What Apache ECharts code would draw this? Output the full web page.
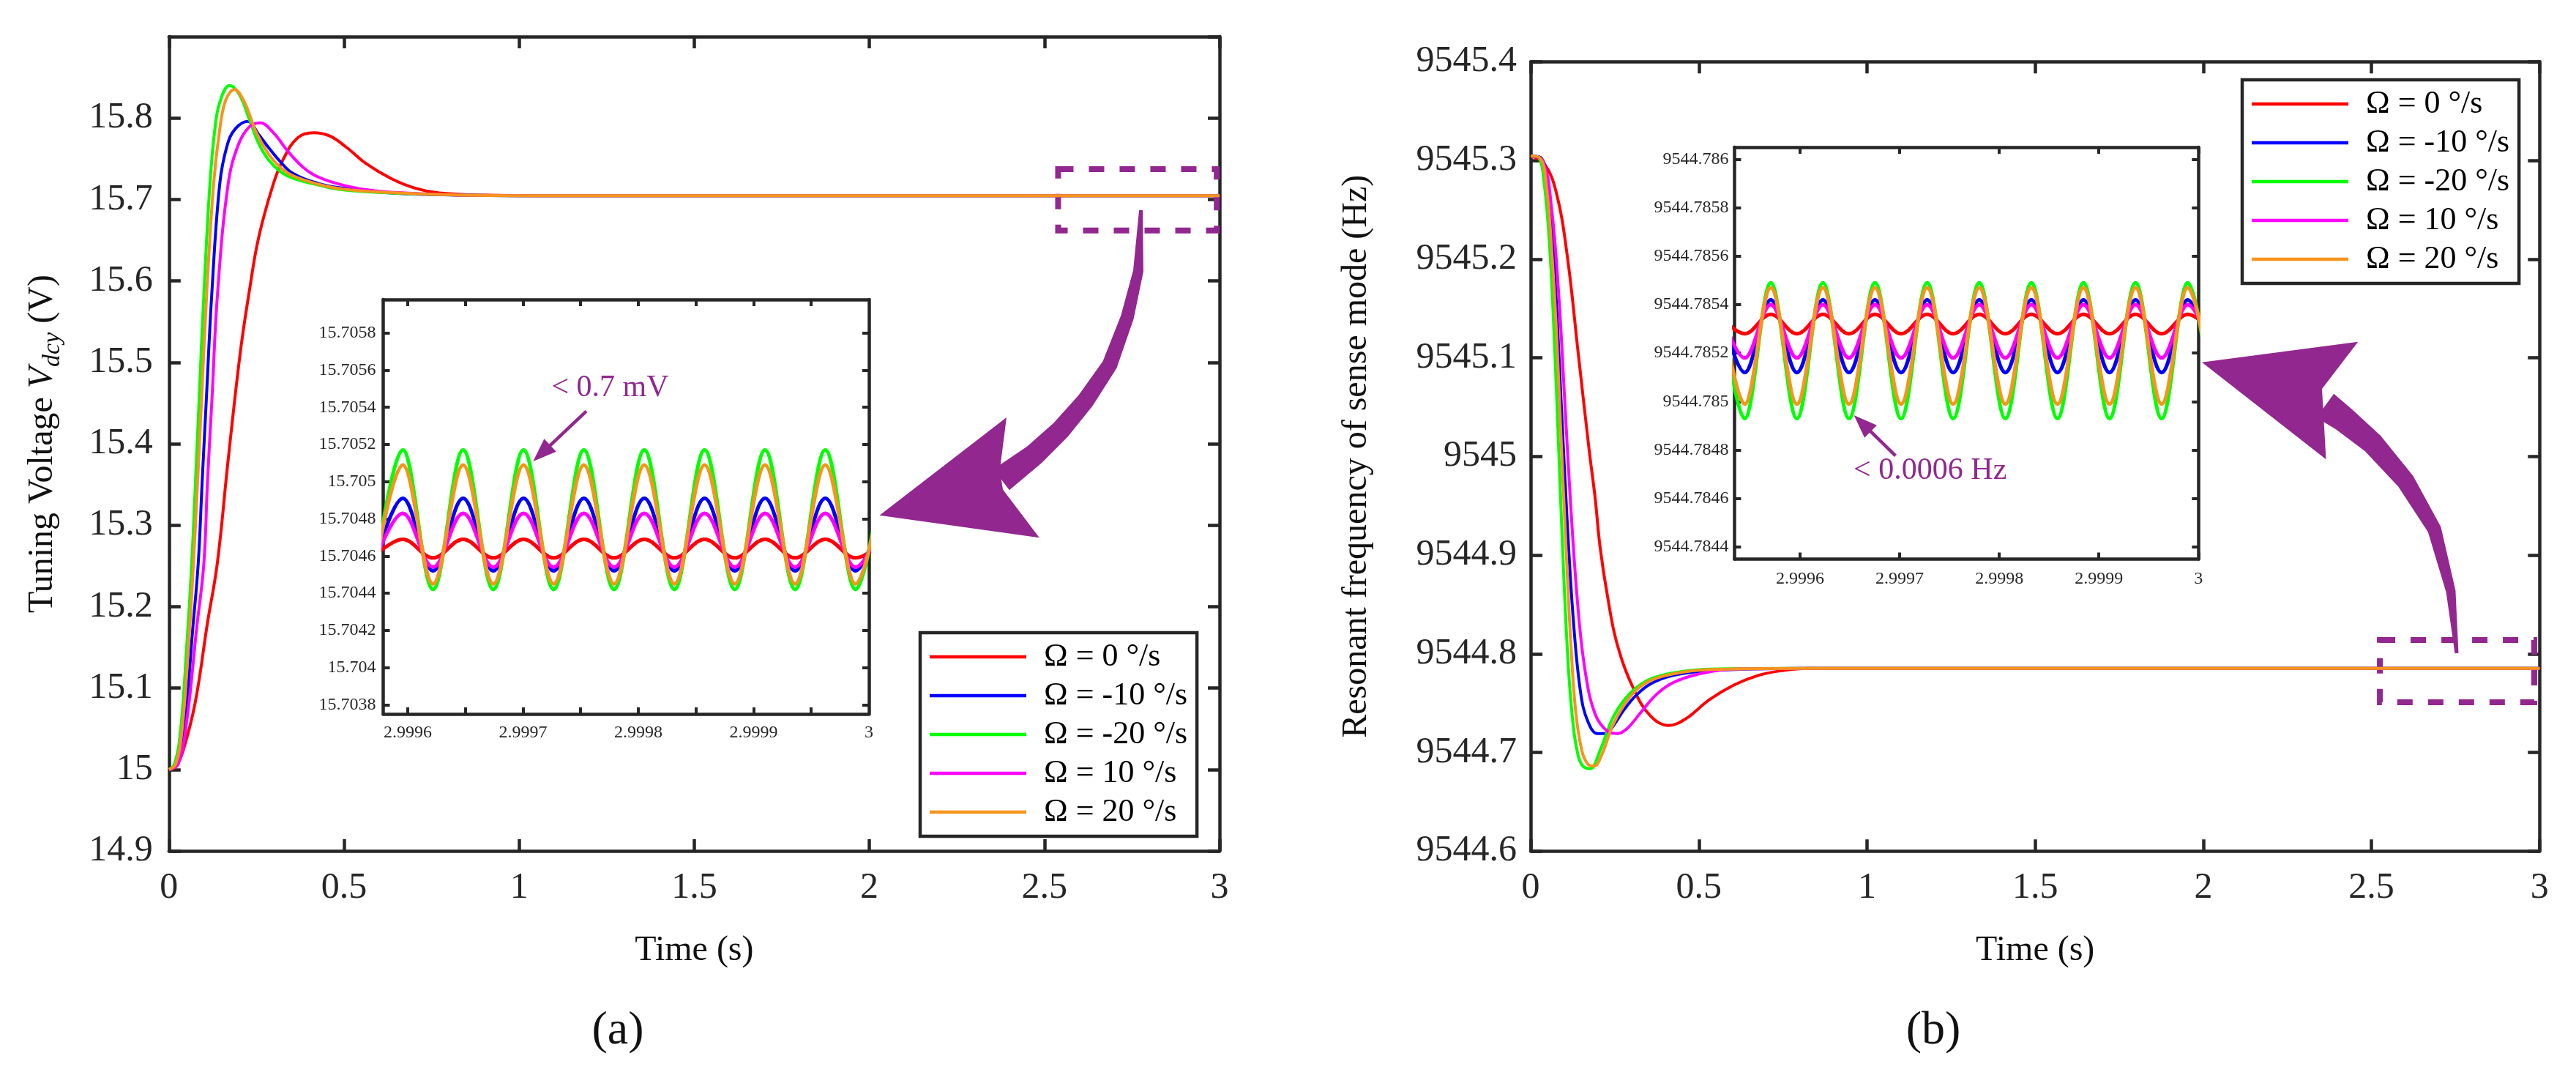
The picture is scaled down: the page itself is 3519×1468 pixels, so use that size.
<!DOCTYPE html>
<html>
<head>
<meta charset="utf-8">
<script src="https://cdn.jsdelivr.net/npm/echarts@6/dist/echarts.min.js"></script>
<style>
  html, body { margin: 0; padding: 0; background: #fff; }
  #main { width: 3519px; height: 1468px; }
</style>
</head>
<body>
<div id="main"></div>
<script>
// series names and colours (same order as the legend)
const names = ['Ω = 0 °/s', 'Ω = -10 °/s', 'Ω = -20 °/s', 'Ω = 10 °/s', 'Ω = 20 °/s'];
const colors = ['#FF0000', '#0000FF', '#00FF00', '#FF00FF', '#F7941D'];

// ---- (a) tuning voltage, [time s, V] ----
const voltRed = [[0,15.0],[0.0195,15.0033],[0.0404,15.023],[0.0753,15.083],[0.110,15.180],[0.138,15.253],[0.169,15.380],[0.204,15.513],[0.229,15.586],[0.256,15.653],[0.298,15.719],[0.326,15.749],[0.368,15.776],[0.413,15.782],[0.459,15.778],[0.507,15.764],[0.563,15.744],[0.633,15.726],[0.702,15.714],[0.772,15.708],[0.912,15.7052],[1.05,15.7047],[3.0,15.7047]];
const voltBlue = [[0,15.0],[0.023,15.0067],[0.044,15.053],[0.068,15.173],[0.0836,15.253],[0.0948,15.353],[0.1066,15.453],[0.1226,15.586],[0.145,15.719],[0.166,15.766],[0.190,15.787],[0.225,15.796],[0.256,15.780],[0.284,15.764],[0.319,15.746],[0.354,15.732],[0.424,15.720],[0.493,15.714],[0.633,15.708],[0.842,15.7052],[1.0,15.7047],[3.0,15.7047]];
const voltGreen = [[0,15.0],[0.016,15.0067],[0.033,15.047],[0.051,15.153],[0.065,15.253],[0.075,15.346],[0.086,15.453],[0.100,15.586],[0.117,15.719],[0.131,15.786],[0.145,15.819],[0.173,15.840],[0.201,15.829],[0.229,15.799],[0.256,15.769],[0.284,15.749],[0.319,15.734],[0.354,15.726],[0.424,15.718],[0.493,15.712],[0.633,15.708],[0.842,15.7052],[1.0,15.7047],[3.0,15.7047]];
const voltMagenta = [[0,15.0],[0.0265,15.0067],[0.051,15.060],[0.079,15.173],[0.0997,15.253],[0.110,15.353],[0.1226,15.453],[0.139,15.586],[0.169,15.719],[0.197,15.766],[0.229,15.789],[0.260,15.794],[0.298,15.782],[0.340,15.759],[0.382,15.740],[0.424,15.728],[0.493,15.718],[0.563,15.712],[0.633,15.709],[0.842,15.7052],[1.0,15.7047],[3.0,15.7047]];
const voltOrange = [[0,15.0],[0.0195,15.0067],[0.037,15.047],[0.056,15.153],[0.070,15.253],[0.081,15.346],[0.093,15.453],[0.108,15.586],[0.1275,15.719],[0.145,15.786],[0.162,15.822],[0.187,15.835],[0.215,15.820],[0.2495,15.782],[0.284,15.756],[0.319,15.739],[0.354,15.729],[0.424,15.719],[0.493,15.713],[0.633,15.7084],[0.842,15.7052],[1.0,15.7047],[3.0,15.7047]];

// (a) inset: times of troughs / peaks, then values at those times
const zoomTimeA = [2.9995696, 2.9995958, 2.999622, 2.9996481, 2.9996743, 2.9997005, 2.9997266, 2.9997528, 2.999779, 2.9998052, 2.9998313, 2.9998575, 2.9998837, 2.9999099, 2.999936, 2.9999622, 2.9999884, 3.0000146];
const zoomVoltRed = [15.70459,15.70469,15.70459,15.70469,15.70459,15.70469,15.70459,15.70469,15.70459,15.70469,15.70459,15.70469,15.70459,15.70469,15.70459,15.70469,15.70459,15.70469];
const zoomVoltBlue = [15.70452,15.70491,15.70452,15.70491,15.70452,15.70491,15.70452,15.70491,15.70452,15.70491,15.70452,15.70491,15.70452,15.70491,15.70452,15.70491,15.70452,15.70491];
const zoomVoltGreen = [15.70442,15.70517,15.70442,15.70517,15.70442,15.70517,15.70442,15.70517,15.70442,15.70517,15.70442,15.70517,15.70442,15.70517,15.70442,15.70517,15.70442,15.70517];
const zoomVoltMagenta = [15.70454,15.70483,15.70454,15.70483,15.70454,15.70483,15.70454,15.70483,15.70454,15.70483,15.70454,15.70483,15.70454,15.70483,15.70454,15.70483,15.70454,15.70483];
const zoomVoltOrange = [15.70445,15.70509,15.70445,15.70509,15.70445,15.70509,15.70445,15.70509,15.70445,15.70509,15.70445,15.70509,15.70445,15.70509,15.70445,15.70509,15.70445,15.70509];
const zoomBandA = [15.70517, 15.70442];

// ---- (b) resonant frequency, [time s, Hz] ----
const freqRed = [[0,9545.3044],[0.0398,9545.297],[0.0759,9545.2675],[0.1085,9545.2036],[0.141,9545.1052],[0.1736,9545.0068],[0.1916,9544.9576],[0.2061,9544.9084],[0.2278,9544.8593],[0.2567,9544.8101],[0.3073,9544.7634],[0.358,9544.7363],[0.4086,9544.7274],[0.4593,9544.7338],[0.5315,9544.7535],[0.6039,9544.7683],[0.6762,9544.7781],[0.7485,9544.783],[0.8208,9544.7852],[3,9544.7852]];
const freqBlue = [[0,9545.3044],[0.0325,9545.302],[0.0542,9545.2626],[0.0723,9545.179],[0.0904,9545.056],[0.1085,9544.9331],[0.1266,9544.8347],[0.1482,9544.7609],[0.1699,9544.7314],[0.1989,9544.7191],[0.2242,9544.7191],[0.2423,9544.7255],[0.2784,9544.7437],[0.3146,9544.7584],[0.358,9544.7698],[0.4231,9544.7781],[0.5315,9544.783],[0.8,9544.7852],[3,9544.7852]];
const freqGreen = [[0,9545.3044],[0.0253,9545.302],[0.0398,9545.2774],[0.0542,9545.2233],[0.0687,9545.1298],[0.0832,9545.0068],[0.0976,9544.8839],[0.1121,9544.7855],[0.1266,9544.7265],[0.141,9544.6969],[0.1555,9544.6861],[0.1772,9544.6837],[0.2061,9544.7019],[0.2423,9544.7338],[0.2784,9544.7535],[0.3146,9544.7658],[0.358,9544.7747],[0.4231,9544.7806],[0.5315,9544.7845],[0.8,9544.7852],[3,9544.7852]];
const freqMagenta = [[0,9545.3044],[0.0362,9545.2995],[0.0615,9545.2528],[0.0832,9545.1642],[0.1012,9545.056],[0.1193,9544.9478],[0.141,9544.8445],[0.1627,9544.7806],[0.1916,9544.7388],[0.2278,9544.7215],[0.2567,9544.7191],[0.2857,9544.724],[0.329,9544.7412],[0.3724,9544.7584],[0.4231,9544.7707],[0.4954,9544.7791],[0.6039,9544.7845],[0.85,9544.7852],[3,9544.7852]];
const freqOrange = [[0,9545.3044],[0.0289,9545.302],[0.047,9545.2725],[0.0615,9545.2134],[0.0759,9545.1298],[0.0904,9545.0167],[0.1049,9544.9084],[0.1193,9544.8101],[0.1338,9544.7412],[0.1519,9544.7019],[0.1699,9544.6881],[0.188,9544.6861],[0.2133,9544.6994],[0.2423,9544.7265],[0.2784,9544.7486],[0.3146,9544.7634],[0.358,9544.7732],[0.4231,9544.7796],[0.5315,9544.784],[0.8,9544.7852],[3,9544.7852]];

// (b) inset: times of peaks / troughs, then values
const zoomTimeB = [2.9995182, 2.9995444, 2.9995706, 2.9995968, 2.9996229, 2.9996491, 2.9996752, 2.9997014, 2.9997276, 2.9997537, 2.9997799, 2.9998061, 2.9998322, 2.9998584, 2.9998845, 2.9999107, 2.9999368, 2.999963, 2.9999892, 3.0000154];
const zoomFreqRed = [9544.78536,9544.78528,9544.78536,9544.78528,9544.78536,9544.78528,9544.78536,9544.78528,9544.78536,9544.78528,9544.78536,9544.78528,9544.78536,9544.78528,9544.78536,9544.78528,9544.78536,9544.78528,9544.78536,9544.78528];
const zoomFreqBlue = [9544.78542,9544.78512,9544.78542,9544.78512,9544.78542,9544.78512,9544.78542,9544.78512,9544.78542,9544.78512,9544.78542,9544.78512,9544.78542,9544.78512,9544.78542,9544.78512,9544.78542,9544.78512,9544.78542,9544.78512];
const zoomFreqGreen = [9544.78549,9544.78493,9544.78549,9544.78493,9544.78549,9544.78493,9544.78549,9544.78493,9544.78549,9544.78493,9544.78549,9544.78493,9544.78549,9544.78493,9544.78549,9544.78493,9544.78549,9544.78493,9544.78549,9544.78493];
const zoomFreqMagenta = [9544.7854,9544.78518,9544.7854,9544.78518,9544.7854,9544.78518,9544.7854,9544.78518,9544.7854,9544.78518,9544.7854,9544.78518,9544.7854,9544.78518,9544.7854,9544.78518,9544.7854,9544.78518,9544.7854,9544.78518];
const zoomFreqOrange = [9544.78547,9544.78499,9544.78547,9544.78499,9544.78547,9544.78499,9544.78547,9544.78499,9544.78547,9544.78499,9544.78547,9544.78499,9544.78547,9544.78499,9544.78547,9544.78499,9544.78547,9544.78499,9544.78547,9544.78499];
const zoomBandB = [9544.78549, 9544.78493];

// dashed boxes marking the zoomed region, [x0, y0, x1, y1]
const boxA = [2.539, 15.7372, 2.992, 15.662];
const boxB = [2.525, 9544.814, 2.984, 9544.7509];

// inset tick positions and labels
const insetTicksA = [2.9996, 2.99965, 2.9997, 2.99975, 2.9998, 2.99985, 2.9999, 2.99995];
const insetLabelsX = [2.9996, 2.9997, 2.9998, 2.9999, 3];
const insetTicksYA = [15.7038, 15.704, 15.7042, 15.7044, 15.7046, 15.7048, 15.705, 15.7052, 15.7054, 15.7056, 15.7058];
const insetTicksYB = [9544.7844, 9544.7846, 9544.7848, 9544.785, 9544.7852, 9544.7854, 9544.7856, 9544.7858, 9544.786];

const FONT = "'Liberation Serif', serif";
const AX = '#262626';
const PURPLE = '#92278F';

const chart = echarts.init(document.getElementById('main'));

function fmt(v) { return '{t|' + parseFloat(v.toFixed(4)) + '}'; }

// one side of an axes frame
function frameAxis(kind, grid, pos, min, max, o) {
  o = o || {};
  const size = o.fontSize || 50;
  const ax = {
    type: 'value', gridIndex: grid, position: pos, min: min, max: max,
    axisLine: { show: true, onZero: false, lineStyle: { color: AX, width: 4.5 } },
    axisTick: { show: true, inside: true, length: o.tickLen || 16, lineStyle: { color: AX, width: o.tickW || 4.5 } },
    axisLabel: {
      show: !!o.label, margin: o.margin || 22, fontSize: size, fontFamily: FONT, color: AX, formatter: fmt,
      rich: { t: { fontFamily: FONT, fontSize: size, color: AX } }
    },
    splitLine: { show: false }
  };
  if (o.interval) ax.interval = o.interval;
  if (o.ticks) ax.axisTick.customValues = o.ticks;
  if (o.labels) ax.axisLabel.customValues = o.labels;
  if (o.hideMax) ax.axisLabel.showMaxLabel = false;
  if (o.name) {
    ax.name = o.name; ax.nameLocation = 'middle'; ax.nameGap = o.nameGap;
    ax.nameTextStyle = { fontFamily: FONT, fontSize: 48, color: '#111', rich: o.rich };
    if (kind === 'y') ax.nameRotate = 90;
  }
  return ax;
}

const xAxes = [
  frameAxis('x', 0, 'bottom', 0, 3, { interval: 0.5, label: true, margin: 26, name: 'Time (s)', nameGap: 112 }),
  frameAxis('x', 0, 'top', 0, 3, { interval: 0.5 }),
  frameAxis('x', 1, 'bottom', 2.9995788, 3, { ticks: insetTicksA, labels: insetLabelsX, label: true, fontSize: 24, margin: 14, tickLen: 9, tickW: 4 }),
  frameAxis('x', 1, 'top', 2.9995788, 3, { ticks: insetTicksA, tickLen: 9, tickW: 4 }),
  frameAxis('x', 2, 'bottom', 0, 3, { interval: 0.5, label: true, margin: 26, name: 'Time (s)', nameGap: 112 }),
  frameAxis('x', 2, 'top', 0, 3, { interval: 0.5 }),
  frameAxis('x', 3, 'bottom', 2.9995341, 3, { ticks: insetLabelsX, labels: insetLabelsX, label: true, fontSize: 24, margin: 15, tickLen: 9, tickW: 4 }),
  frameAxis('x', 3, 'top', 2.9995341, 3, { ticks: insetLabelsX, tickLen: 9, tickW: 4 })
];

const yAxes = [
  frameAxis('y', 0, 'left', 14.9, 15.9, {
    interval: 0.1, label: true, hideMax: true, margin: 22,
    name: '{n|Tuning Voltage }{i|V}{s|dcy}{n| (V)}', nameGap: 142,
    rich: {
      n: { fontFamily: FONT, fontSize: 48, color: '#111', lineHeight: 60 },
      i: { fontFamily: FONT, fontSize: 48, fontStyle: 'italic', color: '#111', lineHeight: 60 },
      s: { fontFamily: FONT, fontSize: 34, fontStyle: 'italic', color: '#111', lineHeight: 30, verticalAlign: 'bottom' }
    }
  }),
  frameAxis('y', 0, 'right', 14.9, 15.9, { interval: 0.1 }),
  frameAxis('y', 1, 'left', 15.70375, 15.70598, { ticks: insetTicksYA, labels: insetTicksYA, label: true, fontSize: 24, margin: 10, tickLen: 9, tickW: 4 }),
  frameAxis('y', 1, 'right', 15.70375, 15.70598, { ticks: insetTicksYA, tickLen: 9, tickW: 4 }),
  frameAxis('y', 2, 'left', 9544.6, 9545.4, { interval: 0.1, label: true, margin: 19, name: 'Resonant frequency of sense mode (Hz)', nameGap: 214 }),
  frameAxis('y', 2, 'right', 9544.6, 9545.4, { interval: 0.1 }),
  frameAxis('y', 3, 'left', 9544.78435, 9544.78605, { ticks: insetTicksYB, labels: insetTicksYB, label: true, fontSize: 24, margin: 8, tickLen: 9, tickW: 4 }),
  frameAxis('y', 3, 'right', 9544.78435, 9544.78605, { ticks: insetTicksYB, tickLen: 9, tickW: 4 })
];

function line(name, color, data, axis, width) {
  return {
    type: 'line', name: name, data: data, xAxisIndex: axis, yAxisIndex: axis,
    showSymbol: false, symbol: 'none', smooth: width > 4 ? 0.363 : 0.4,
    lineStyle: { color: color, width: width }, itemStyle: { color: color },
    emphasis: { disabled: true }, animation: false
  };
}

const volt = [voltRed, voltBlue, voltGreen, voltMagenta, voltOrange];
const freq = [freqRed, freqBlue, freqGreen, freqMagenta, freqOrange];
const zoomVolt = [zoomVoltRed, zoomVoltBlue, zoomVoltGreen, zoomVoltMagenta, zoomVoltOrange];
const zoomFreq = [zoomFreqRed, zoomFreqBlue, zoomFreqGreen, zoomFreqMagenta, zoomFreqOrange];

const series = [];
names.forEach((n, i) => {
  series.push(line(n, colors[i], volt[i], 0, 4));
  series.push(line(n, colors[i], freq[i], 4, 4));
  series.push(line(n, colors[i], zoomTimeA.map((t, k) => [t, zoomVolt[i][k]]), 2, 5));
  series.push(line(n, colors[i], zoomTimeB.map((t, k) => [t, zoomFreq[i][k]]), 6, 5));
});

function dashedBox(b) {
  return {
    silent: true,
    itemStyle: { color: 'rgba(0,0,0,0)', borderColor: PURPLE, borderWidth: 8, borderType: [21, 21] },
    data: [[{ coord: [b[0], b[1]] }, { coord: [b[2], b[3]] }]]
  };
}
function bandLines(vals) {
  return {
    silent: true, symbol: ['none', 'none'], label: { show: false },
    lineStyle: { color: PURPLE, width: 4, type: [22, 20] },
    data: vals.map(v => ({ yAxis: v }))
  };
}
// orange series are the last four pushed
series[series.length - 4].markArea = dashedBox(boxA);
series[series.length - 3].markArea = dashedBox(boxB);
series[series.length - 2].markLine = bandLines(zoomBandA);
series[series.length - 1].markLine = bandLines(zoomBandB);

// ---- decoration: curved arrows, small arrows, labels ----
function taper(pts, ws) {
  const a = [], b = [];
  pts.forEach((p, i) => {
    const p0 = pts[Math.max(i - 1, 0)], p1 = pts[Math.min(i + 1, pts.length - 1)];
    let dx = p1[0] - p0[0], dy = p1[1] - p0[1];
    const l = Math.hypot(dx, dy); dx /= l; dy /= l;
    a.push([p[0] - dy * ws[i] / 2, p[1] + dx * ws[i] / 2]);
    b.push([p[0] + dy * ws[i] / 2, p[1] - dx * ws[i] / 2]);
  });
  return a.concat(b.reverse());
}
function smallArrow(from, tip) {
  let dx = tip[0] - from[0], dy = tip[1] - from[1];
  const l = Math.hypot(dx, dy); dx /= l; dy /= l;
  const len = 32, hw = 12;
  const base = [tip[0] - dx * len, tip[1] - dy * len];
  return [
    { type: 'line', z: 100, shape: { x1: from[0], y1: from[1], x2: base[0] + dx * 4, y2: base[1] + dy * 4 }, style: { stroke: PURPLE, lineWidth: 4.5 } },
    { type: 'polygon', z: 100, shape: { points: [tip, [base[0] - dy * hw, base[1] + dx * hw], [base[0] + dy * hw, base[1] - dx * hw]] }, style: { fill: PURPLE } }
  ];
}
function label(text, x, y, size, color) {
  return { type: 'text', z: 100, x: x, y: y, style: { text: text, fontFamily: FONT, fontSize: size, fill: color, align: 'center', verticalAlign: 'middle' } };
}

const graphic = [
  { type: 'polygon', z: 100, shape: { points: taper([[1558.6, 287], [1555, 370], [1540, 433], [1516, 498], [1483, 547], [1449, 587], [1413, 621], [1368, 655]], [5, 14, 18, 21, 24, 27, 30, 36]) }, style: { fill: PURPLE } },
  { type: 'polygon', z: 100, shape: { points: [[1201.5, 703.7], [1375, 570], [1365.8, 642], [1370, 668.6], [1419.8, 734.3]] }, style: { fill: PURPLE } },
  { type: 'polygon', z: 100, shape: { points: taper([[3356, 892], [3348, 807.5], [3325.6, 723], [3286.4, 657.3], [3241.5, 605.6], [3202.2, 572.8], [3176.4, 554]], [5, 13, 19, 25, 30, 35, 40]) }, style: { fill: PURPLE } },
  { type: 'polygon', z: 100, shape: { points: [[3008, 494.8], [3221.3, 466.7], [3172, 531], [3177.5, 627.2]] }, style: { fill: PURPLE } },
  ...smallArrow([800.9, 561.7], [728.3, 630]),
  ...smallArrow([2589.4, 622.4], [2532.6, 566.9]),
  label('< 0.7 mV', 833.5, 530, 42, PURPLE),
  label('< 0.0006 Hz', 2636.7, 643.4, 42, PURPLE),
  label('(a)', 844, 1408, 64, '#111'),
  label('(b)', 2641, 1408, 64, '#111')
];

const legendCommon = {
  data: names, orient: 'vertical', icon: 'rect', itemWidth: 132, itemHeight: 4.5, itemGap: 9,
  padding: [11, 13, 11, 13], borderColor: AX, borderWidth: 4.5, backgroundColor: '#fff',
  selectedMode: false,
  formatter: n => '{g|}{t|' + n + '}',
  textStyle: {
    fontFamily: FONT, fontSize: 44, color: '#000', lineHeight: 44,
    rich: { g: { width: 19 }, t: { fontFamily: FONT, fontSize: 44, color: '#000', lineHeight: 44 } }
  }
};

chart.setOption({
  animation: false,
  backgroundColor: '#fff',
  textStyle: { fontFamily: FONT },
  grid: [
    { left: 230.8, top: 50, width: 1435.2, height: 1112, containLabel: false },
    { left: 523.5, top: 409, width: 663.5, height: 566, containLabel: false, show: true, backgroundColor: '#fff', borderWidth: 0 },
    { left: 2091.1, top: 84.3, width: 1378.2, height: 1078, containLabel: false },
    { left: 2369.4, top: 201, width: 633.9, height: 562.4, containLabel: false, show: true, backgroundColor: '#fff', borderWidth: 0 }
  ],
  xAxis: xAxes,
  yAxis: yAxes,
  legend: [
    Object.assign({ left: 1257, top: 864 }, legendCommon),
    Object.assign({ left: 3063, top: 109 }, legendCommon)
  ],
  series: series,
  graphic: graphic
});

window.addEventListener('resize', () => chart.resize());
</script>
</body>
</html>
